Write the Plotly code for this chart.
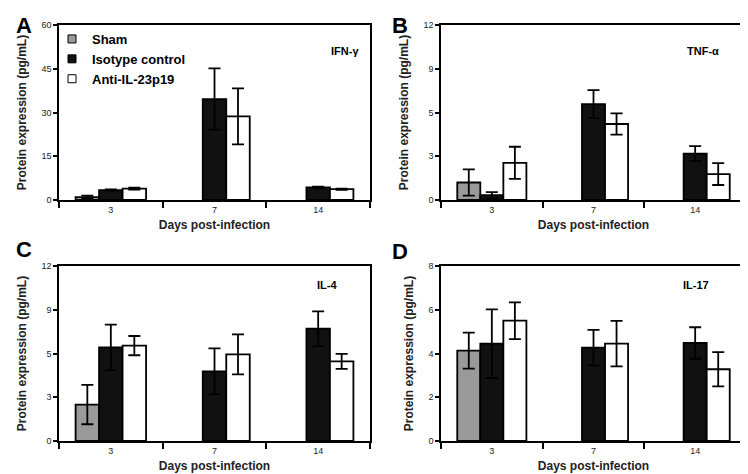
from plotly.subplots import make_subplots
import plotly.graph_objects as go

days = ['3', '7', '14']

# panel A - IFN-gamma
ifn_sham = [1.0, None, None]
ifn_sham_err = [0.5, None, None]
ifn_iso = [3.4, 34.6, 4.3]
ifn_iso_err = [0.2, 10.5, 0.3]
ifn_anti = [3.9, 28.7, 3.7]
ifn_anti_err = [0.3, 9.6, 0.2]

# panel B - TNF-alpha
tnf_sham = [1.2, None, None]
tnf_sham_err = [0.9, None, None]
tnf_iso = [0.34, 6.58, 3.18]
tnf_iso_err = [0.2, 0.96, 0.52]
tnf_anti = [2.55, 5.21, 1.78]
tnf_anti_err = [1.1, 0.73, 0.75]

# panel C - IL-4
il4_sham = [2.5, None, None]
il4_sham_err = [1.35, None, None]
il4_iso = [6.42, 4.78, 7.70]
il4_iso_err = [1.56, 1.57, 1.19]
il4_anti = [6.54, 5.94, 5.46]
il4_anti_err = [0.66, 1.37, 0.51]

# panel D - IL-17
il17_sham = [4.13, None, None]
il17_sham_err = [0.82, None, None]
il17_iso = [4.45, 4.27, 4.48]
il17_iso_err = [1.57, 0.81, 0.72]
il17_anti = [5.50, 4.45, 3.28]
il17_anti_err = [0.84, 1.04, 0.78]

# y tick labels as printed in the figure
ytick_a = ['0', '15', '30', '45', '60']
ytick_b = ['0', '3', '5', '9', '12']
ytick_c = ['0', '3', '5', '9', '12']
ytick_d = ['0', '2', '4', '6', '8']

FONT = 'Arial, Liberation Sans, sans-serif'
groups = ['Sham', 'Isotype control', 'Anti-IL-23p19']
colors = ['#9a9a9a', '#111111', '#ffffff']

# page has an 8px body margin, so the figure is sized to fit the window
OFF = 8
W, H = 748 - OFF, 474 - OFF

def px(x):
    return (x - OFF) / W

def py(y):
    return 1 - (y - OFF) / H

panels = [
    (1, 1, [ifn_sham, ifn_iso, ifn_anti], [ifn_sham_err, ifn_iso_err, ifn_anti_err], 60, ytick_a),
    (1, 2, [tnf_sham, tnf_iso, tnf_anti], [tnf_sham_err, tnf_iso_err, tnf_anti_err], 12, ytick_b),
    (2, 1, [il4_sham, il4_iso, il4_anti], [il4_sham_err, il4_iso_err, il4_anti_err], 12, ytick_c),
    (2, 2, [il17_sham, il17_iso, il17_anti], [il17_sham_err, il17_iso_err, il17_anti_err], 8, ytick_d),
]

fig = make_subplots(rows=2, cols=2)

for i, (r, c, vals, errs, ymax, ytxt) in enumerate(panels):
    for g in range(3):
        fig.add_trace(go.Bar(x=days, y=vals[g], name=groups[g],
                             marker=dict(color=colors[g], line=dict(color='black', width=1.8)),
                             error_y=dict(type='data', array=errs[g], color='black', thickness=1.8, width=6),
                             showlegend=False),
                      row=r, col=c)
    step = ymax / 4
    fig.update_yaxes(range=[0, ymax], tickvals=[step * k for k in range(5)], ticktext=ytxt,
                     row=r, col=c)

# legend entries (small squares like the original key)
for g in range(3):
    fig.add_trace(go.Scatter(x=[None], y=[None], mode='markers', name=groups[g],
                             marker=dict(symbol='square', size=8, color=colors[g],
                                         line=dict(color='black', width=1))),
                  row=1, col=1)

xdom = [[px(59), px(370)], [px(441), px(746)]]
ydom = [[py(200), py(25)], [py(441), py(266)]]

fig.update_xaxes(type='category', automargin=False, showline=True, linecolor='black', linewidth=1.5,
                 mirror=True, ticks='outside', tickson='boundaries', ticklen=6, tickcolor='black',
                 tickwidth=1.5, tickfont=dict(family=FONT, size=9, color='#222'),
                 title=dict(text='Days post-infection', standoff=7,
                            font=dict(family=FONT, size=12, color='#222', weight='bold')),
                 showgrid=False)
fig.update_yaxes(automargin=False, showline=True, linecolor='black', linewidth=1.5, mirror=True,
                 ticks='outside', ticklen=4, tickcolor='black', tickwidth=1.5,
                 tickfont=dict(family=FONT, size=9, color='#222'),
                 title=dict(text='Protein expression (pg/mL)', standoff=12,
                            font=dict(family=FONT, size=12, color='#222', weight='bold')),
                 showgrid=False, zeroline=False)

fig.update_layout(xaxis=dict(domain=xdom[0]), xaxis2=dict(domain=xdom[1]),
                  xaxis3=dict(domain=xdom[0]), xaxis4=dict(domain=xdom[1]),
                  yaxis=dict(domain=ydom[0]), yaxis2=dict(domain=ydom[0]),
                  yaxis3=dict(domain=ydom[1]), yaxis4=dict(domain=ydom[1]))

# panel letters and cytokine names
labels = [
    ('A', 14, 11, 22),
    ('B', 400, 11, 22),
    ('C', 14, 249, 22),
    ('D', 400, 251, 22),
    ('IFN-γ', 345, 43, 11),
    ('TNF-α', 721, 43, 11),
    ('IL-4', 327, 285, 11),
    ('IL-17', 711, 285, 11),
]
for txt, x, y, size in labels:
    fig.add_annotation(text=txt, x=px(x), y=py(y), xref='paper', yref='paper', showarrow=False,
                       font=dict(family=FONT, size=size, color='black', weight='bold'))

fig.update_layout(
    width=W, height=H,
    margin=dict(l=0, r=0, t=0, b=0),
    barmode='group', bargap=0.32, bargroupgap=0,
    plot_bgcolor='white', paper_bgcolor='white',
    legend=dict(x=px(52), y=py(24), xanchor='left', yanchor='top',
                bgcolor='rgba(0,0,0,0)', itemwidth=30, tracegroupgap=0,
                font=dict(family=FONT, size=13, color='black', weight='bold')),
)

fig.write_html("out.html")
